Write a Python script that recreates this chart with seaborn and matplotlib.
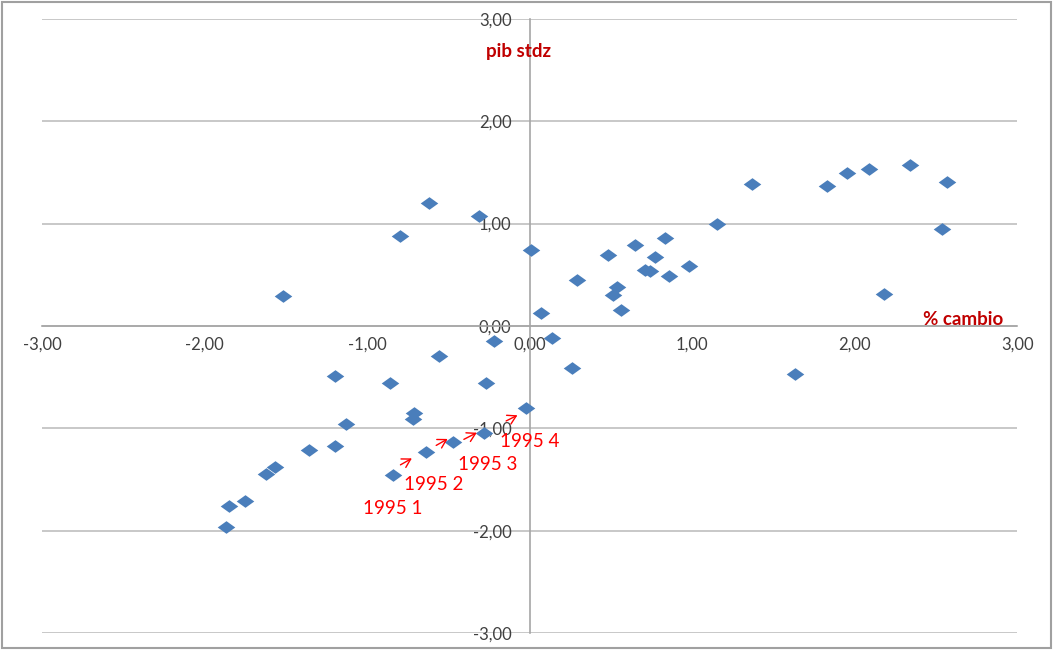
import numpy as np
import pandas as pd
import matplotlib
matplotlib.use('Agg')
import matplotlib.pyplot as plt
import seaborn as sns
from matplotlib.ticker import FixedLocator, FuncFormatter
from matplotlib.patches import Rectangle

# % cambio (x) vs pib stdz (y)
cambio = [-1.52, -0.80, -0.62, -0.31, 0.01, 0.07, 0.29, 0.48, 0.65, 0.77,
          0.83, 0.71, 0.74, 0.86, 0.98, 0.54, 0.51, 0.56, 1.15, 1.37,
          1.83, 1.95, 2.09, 2.34, 2.57, 2.54, 2.18, -0.22, -0.56, -1.20,
          -0.86, -0.27, -0.71, -0.72, -1.13, -0.02, -0.28, -0.47, -0.64, -0.84,
          -1.36, -1.20, -1.57, -1.62, -1.75, -1.85, -1.87, 0.14, 0.26, 1.63]
pib = [0.29, 0.88, 1.20, 1.07, 0.74, 0.13, 0.45, 0.69, 0.79, 0.67,
       0.86, 0.55, 0.54, 0.49, 0.59, 0.38, 0.30, 0.16, 1.00, 1.39,
       1.37, 1.49, 1.53, 1.57, 1.41, 0.95, 0.31, -0.15, -0.29, -0.49,
       -0.56, -0.56, -0.85, -0.91, -0.96, -0.80, -1.05, -1.13, -1.23, -1.46,
       -1.21, -1.17, -1.38, -1.45, -1.71, -1.76, -1.96, -0.12, -0.41, -0.47]

ticks = [-3, -2, -1, 0, 1, 2, 3]

# quarter labels and their little arrows
quarter_labels = ['1995 1', '1995 2', '1995 3', '1995 4']
label_pos = [(-0.84, -1.78), (-0.59, -1.55), (-0.26, -1.35), (0.0, -1.13)]
arrow_from = [(-0.81, -1.37), (-0.59, -1.18), (-0.42, -1.12), (-0.16, -0.94)]
arrow_to = [(-0.71, -1.28), (-0.49, -1.09), (-0.31, -1.03), (-0.06, -0.86)]

df = pd.DataFrame({'cambio': cambio, 'pib': pib})

sns.set_style('white')
plt.rcParams['font.family'] = ['Lato', 'DejaVu Sans']

fig = plt.figure(figsize=(10.53, 6.5), dpi=100)
ax = fig.add_axes([0.040, 0.026, 0.926, 0.945])

diamond = [(-1, 0), (0, 0.72), (1, 0), (0, -0.72), (-1, 0)]
sns.scatterplot(data=df, x='cambio', y='pib', marker=diamond, s=160,
                color='#4A7EBB', linewidth=0, ax=ax, zorder=3)

ax.set_xlim(-3, 3)
ax.set_ylim(-3, 3)
ax.xaxis.set_major_locator(FixedLocator(ticks))
ax.yaxis.set_major_locator(FixedLocator(ticks))
fmt = FuncFormatter(lambda v, p: f'{v:.2f}'.replace('.', ','))
ax.xaxis.set_major_formatter(fmt)
ax.yaxis.set_major_formatter(fmt)

ax.yaxis.grid(True, color='#BFBFBF', lw=1.2)
ax.xaxis.grid(False)
ax.set_axisbelow(True)

for side in ['top', 'right']:
    ax.spines[side].set_visible(False)
ax.spines['left'].set_position(('data', 0))
ax.spines['bottom'].set_position(('data', 0))
for side in ['left', 'bottom']:
    ax.spines[side].set_color('#A6A6A6')
    ax.spines[side].set_linewidth(1.2)

ax.tick_params(axis='x', direction='out', length=5, width=1, color='#A6A6A6',
               labelsize=12, labelcolor='#404040', pad=3)
ax.tick_params(axis='y', length=0, labelsize=12, labelcolor='#404040', pad=13)
ax.set_xlabel('')
ax.set_ylabel('')

ax.text(-0.27, 2.68, 'pib stdz', color='#C00000', fontsize=13.5,
        fontweight='bold', ha='left', va='center')
ax.text(2.42, 0.06, '% cambio', color='#C00000', fontsize=13.5,
        fontweight='bold', ha='left', va='center')

for lab, pos, a, b in zip(quarter_labels, label_pos, arrow_from, arrow_to):
    ax.text(pos[0], pos[1], lab, color='#FF0000', fontsize=13.5,
            ha='center', va='center')
    ax.annotate('', xy=b, xytext=a,
                arrowprops=dict(arrowstyle='->,head_length=0.6,head_width=0.35',
                                color='#FF0000', lw=1))

fig.patches.append(Rectangle((0.002, 0.003), 0.996, 0.994, fill=False,
                             edgecolor='#A0A0A0', lw=1.5,
                             transform=fig.transFigure, figure=fig))

fig.savefig('out.png', dpi=100)
